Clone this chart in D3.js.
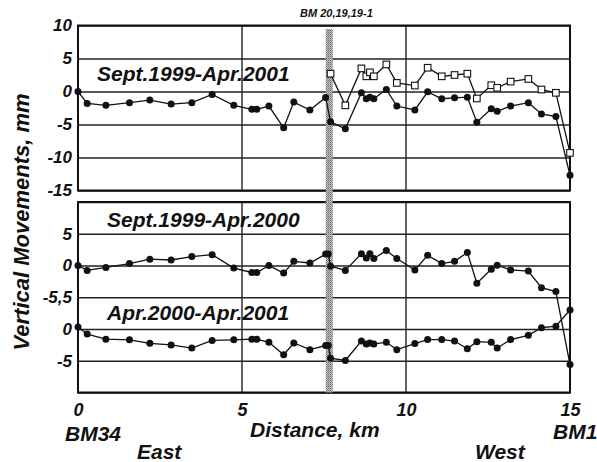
<!DOCTYPE html>
<html>
<head>
<meta charset="utf-8">
<script src="https://cdnjs.cloudflare.com/ajax/libs/d3/7.8.5/d3.min.js"></script>
<style>
  body { margin: 0; background: #fff; }
  svg { display: block; }
  text { font-family: "Liberation Sans", Arial, sans-serif; font-weight: bold; font-style: italic; fill: #111; }
</style>
</head>
<body>
<div id="chart"></div>
<script>
// stations along the line, km (BM34 at 0, BM1 at 15)
const km = [0, 0.28, 0.85, 1.57, 2.19, 2.84, 3.47, 4.09, 4.75, 5.3, 5.45, 5.82, 6.27, 6.58, 7.07,
  7.55, 7.63, 7.70, 8.15, 8.64, 8.79, 8.9, 9.02, 9.4, 9.72, 10.27, 10.66, 11.09, 11.48, 11.87,
  12.16, 12.6, 12.78, 13.19, 13.73, 14.13, 14.57, 15];

// Sept.1999-Apr.2001, filled dots
const sept99Apr01 = [0, -1.8, -2.1, -1.7, -1.3, -1.9, -1.7, -0.45, -2.1, -2.7, -2.7, -2.2, -5.5, -1.6, -2.8,
  -0.9, null, -4.6, -5.65, -0.2, -1.1, -0.86, -1.1, 0.3, -2.2, -2.8, -0.05, -1.1, -0.96, -0.86,
  -4.65, -2.6, -3.0, -2.2, -1.7, -3.4, -3.8, -12.7];

// Sept.1999-Apr.2001, open squares (from BM 19-1 on)
const sept99Apr01Open = [null, null, null, null, null, null, null, null, null, null, null, null, null, null, null,
  null, null, 2.7, -2.1, 3.5, 2.3, 2.9, 2.3, 4.1, 1.3, 0.9, 3.6, 2.3, 2.5, 2.7,
  -1.06, 0.95, 0.56, 1.5, 1.9, 0.3, -0.2, -9.3];

// Sept.1999-Apr.2000
const sept99Apr00 = [0, -0.77, -0.3, 0.3, 1.0, 0.87, 1.4, 1.7, -0.4, -1.1, -1.1, 0, -1.2, 0.66, 0.4,
  1.8, 1.8, -0.1, -0.77, 1.85, 1.2, 1.85, 1.1, 2.35, 1.1, -0.7, 1.6, 0.3, 0.66, 2.05,
  -2.8, -0.6, 0.05, -0.7, -0.87, -3.5, -4.1, -15.6];

// Apr.2000-Apr.2001
const apr00Apr01 = [0.3, -0.8, -1.6, -1.7, -2.25, -2.5, -3.0, -1.8, -1.7, -1.6, -1.6, -2.1, -4.05, -2.2, -3.25,
  -2.6, -2.6, -4.6, -4.95, -1.9, -2.35, -2.2, -2.35, -2.1, -3.25, -2.3, -1.67, -1.67, -1.9, -3.1,
  -2.0, -2.1, -3.0, -1.67, -1.0, 0.2, 0.45, 3.0];

const xTicks = [0, 5, 10, 15];
const topTicks = [10, 5, 0, -5, -10, -15];
const topTickLabels = ["10", "5", "0", "-5", "-10", "-15"];
// bottom panel shares one frame: upper series about 0, lower series shifted by -10
const bottomTicks = [10, 5, 0, -5, -10, -15, -20];
const bottomTickLabels = ["", "5", "0", "-5,5", "0", "-5", ""];
const lowerShift = -10;
const bmKm = 7.66;

const size = { width: 597, height: 462 };

const svg = d3.select("#chart").append("svg")
  .attr("width", size.width)
  .attr("height", size.height);

const x = d3.scaleLinear().domain([0, 15]).range([78, 570]);
const yTop = d3.scaleLinear().domain([10, -15]).range([25.5, 190.5]);
const yBot = d3.scaleLinear().domain([10, -20]).range([202, 392.5]);

const drawFrame = function(y, ticks, labels) {
  const [y0, y1] = y.range();
  const g = svg.append("g");
  // horizontal grid + labels
  g.append("g")
    .attr("transform", `translate(${x(0)},0)`)
    .call(d3.axisLeft(y).tickValues(ticks).tickSize(-(x(15) - x(0))).tickPadding(6)
      .tickFormat((d, i) => labels[i]))
    .call(a => a.select(".domain").remove())
    .call(a => a.selectAll("line").attr("stroke", "#222").attr("stroke-width", 1.4))
    .call(a => a.selectAll("text").style("font-size", "17px").attr("fill", "#111"));
  // vertical grid
  g.selectAll(".vgrid")
    .data([5, 10])
    .enter().append("line")
    .attr("x1", d => x(d)).attr("x2", d => x(d))
    .attr("y1", y0).attr("y2", y1)
    .attr("stroke", "#222").attr("stroke-width", 1.4);
  g.append("rect")
    .attr("x", x(0)).attr("y", y0)
    .attr("width", x(15) - x(0)).attr("height", y1 - y0)
    .attr("fill", "none").attr("stroke", "#111").attr("stroke-width", 2);
};

drawFrame(yTop, topTicks, topTickLabels);
drawFrame(yBot, bottomTicks, bottomTickLabels);

// BM 20,19,19-1 band
const defs = svg.append("defs");
const pat = defs.append("pattern")
  .attr("id", "stipple").attr("patternUnits", "userSpaceOnUse")
  .attr("width", 2).attr("height", 2);
pat.append("rect").attr("width", 2).attr("height", 2).attr("fill", "#c4c4c4");
pat.append("rect").attr("width", 1).attr("height", 1).attr("fill", "#6a6a6a");
pat.append("rect").attr("x", 1).attr("y", 1).attr("width", 1).attr("height", 1).attr("fill", "#8a8a8a");

svg.append("rect")
  .attr("x", x(bmKm) - 3.5).attr("y", 29)
  .attr("width", 7).attr("height", yBot(-20) - 29)
  .attr("fill", "url(#stipple)");

svg.append("text")
  .attr("x", 300).attr("y", 17)
  .style("font-size", "11px")
  .text("BM 20,19,19-1");

// series
const drawSeries = function(y, values, shift, open) {
  const pts = km.map((k, i) => ({ k: k, v: values[i] })).filter(d => d.v !== null);
  const line = d3.line().x(d => x(d.k)).y(d => y(d.v + shift));
  svg.append("path")
    .datum(pts)
    .attr("d", line)
    .attr("fill", "none")
    .attr("stroke", "#111")
    .attr("stroke-width", 1.3);
  if (open) {
    svg.append("g").selectAll("rect")
      .data(pts)
      .enter().append("rect")
      .attr("x", d => x(d.k) - 3.3).attr("y", d => y(d.v + shift) - 3.3)
      .attr("width", 6.6).attr("height", 6.6)
      .attr("fill", "#fff").attr("stroke", "#111").attr("stroke-width", 1.1);
  } else {
    svg.append("g").selectAll("circle")
      .data(pts)
      .enter().append("circle")
      .attr("cx", d => x(d.k)).attr("cy", d => y(d.v + shift))
      .attr("r", 3.5)
      .attr("fill", "#111");
  }
};

drawSeries(yTop, sept99Apr01Open, 0, true);
drawSeries(yTop, sept99Apr01, 0, false);
drawSeries(yBot, sept99Apr00, 0, false);
drawSeries(yBot, apr00Apr01, lowerShift, false);

// panel titles
svg.append("text").attr("x", 97).attr("y", 81).style("font-size", "21px").text("Sept.1999-Apr.2001");
svg.append("text").attr("x", 107).attr("y", 227).style("font-size", "21px").text("Sept.1999-Apr.2000");
svg.append("text").attr("x", 107).attr("y", 320).style("font-size", "21px").text("Apr.2000-Apr.2001");

// x axis labels
svg.append("g")
  .attr("transform", `translate(0,${yBot(-20)})`)
  .call(d3.axisBottom(x).tickValues(xTicks).tickSize(0).tickPadding(11))
  .call(a => a.select(".domain").remove())
  .call(a => a.selectAll("text").style("font-size", "18px").attr("fill", "#111"));

svg.append("text").attr("x", 65).attr("y", 441).style("font-size", "21px").text("BM34");
svg.append("text").attr("x", 137).attr("y", 459).style("font-size", "21px").text("East");
svg.append("text").attr("x", 250).attr("y", 437).style("font-size", "21px").text("Distance, km");
svg.append("text").attr("x", 475).attr("y", 459).style("font-size", "21px").text("West");
svg.append("text").attr("x", 553).attr("y", 439).style("font-size", "21px").text("BM1");

svg.append("text")
  .attr("transform", "translate(29,222) rotate(-90)")
  .attr("text-anchor", "middle")
  .style("font-size", "22px")
  .text("Vertical Movements, mm");
</script>
</body>
</html>
